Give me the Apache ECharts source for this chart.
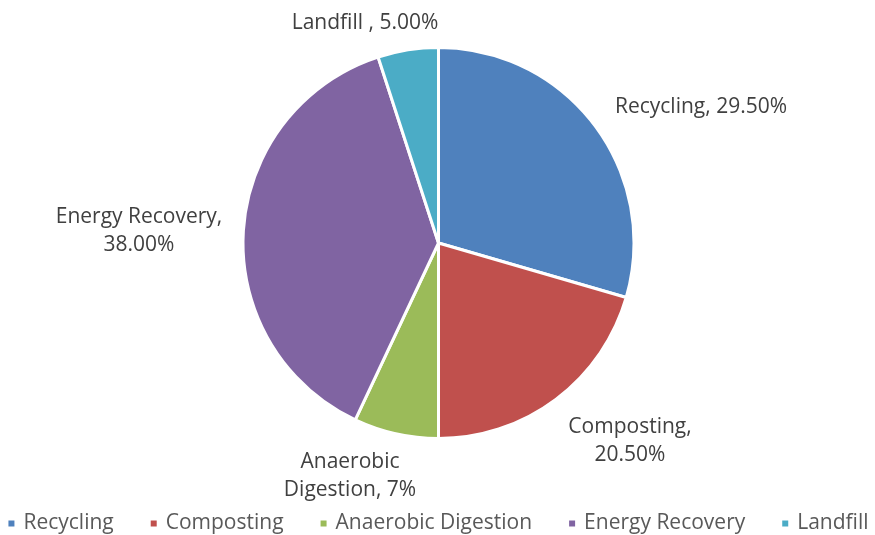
<!DOCTYPE html>
<html>
<head>
<meta charset="utf-8">
<script src="https://cdn.jsdelivr.net/npm/echarts@6/dist/echarts.min.js"></script>
<style>
html,body{margin:0;padding:0;background:#fff;}
#chart{width:875px;height:535px;}
</style>
</head>
<body>
<div id="chart"></div>
<script>
// ---- data ----
const categories = ['Recycling', 'Composting', 'Anaerobic Digestion', 'Energy Recovery', 'Landfill'];
const values = [29.5, 20.5, 7, 38, 5];
const labelTexts = ['Recycling, 29.50%', 'Composting,\n20.50%', 'Anaerobic\nDigestion, 7%', 'Energy Recovery,\n38.00%', 'Landfill , 5.00%'];
const colors = ['#4F81BD', '#C0504D', '#9BBB59', '#8064A2', '#4BACC6'];

// ---- layout (label anchor centres, px) ----
const labelCentres = [[701, 107], [630, 441], [350, 476], [139, 231], [365, 23]];

const FONT = '"Open Sans", sans-serif';
const chart = echarts.init(document.getElementById('chart'), null, {renderer: 'canvas'});
chart.setOption({
  animation: false,
  color: colors,
  legend: {
    top: 513,
    left: 'center',
    padding: 0,
    icon: 'rect',
    itemWidth: 8,
    itemHeight: 8,
    itemGap: 35,
    textStyle: {fontFamily: FONT, fontSize: 21, color: '#595959', padding: [0, 0, 0, 3]},
    data: categories
  },
  series: [{
    type: 'pie',
    center: [438.5, 243],
    radius: 195.5,
    startAngle: 90,
    clockwise: true,
    avoidLabelOverlap: false,
    itemStyle: {borderColor: '#ffffff', borderWidth: 3},
    label: {
      show: true,
      position: 'outside',
      fontFamily: FONT,
      fontSize: 21,
      lineHeight: 28,
      color: '#404040',
      formatter: p => labelTexts[p.dataIndex]
    },
    labelLine: {show: false},
    labelLayout: p => ({
      x: labelCentres[p.dataIndex][0],
      y: labelCentres[p.dataIndex][1],
      align: 'center',
      verticalAlign: 'middle'
    }),
    emphasis: {disabled: true},
    data: categories.map((c, i) => ({name: c, value: values[i]}))
  }]
});
</script>
</body>
</html>
